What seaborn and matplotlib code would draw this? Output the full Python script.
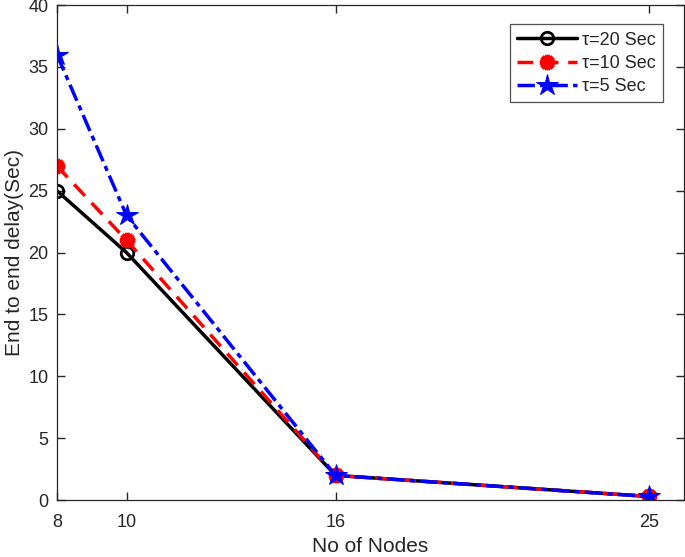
import numpy as np
import pandas as pd
import matplotlib
matplotlib.use("Agg")
import matplotlib.pyplot as plt
import seaborn as sns

# data
nodes = [8, 10, 16, 25]
delay_tau20 = [25, 20, 2, 0.3]
delay_tau10 = [27, 21, 2, 0.3]
delay_tau5 = [36, 23, 2, 0.3]
labels = ["τ=20 Sec", "τ=10 Sec", "τ=5 Sec"]

sns.set_style("ticks")
plt.rcParams['font.family'] = ['Liberation Sans', 'DejaVu Sans']

fig = plt.figure(figsize=(6.85, 5.57), dpi=100)
ax = fig.add_axes([0.083, 0.102, 0.9155, 0.889])

sns.lineplot(x=nodes, y=delay_tau20, ax=ax, color='black', linestyle='-', linewidth=2.5,
             marker='o', markersize=9, markerfacecolor='none', markeredgecolor='black',
             markeredgewidth=2, label=labels[0])
sns.lineplot(x=nodes, y=delay_tau10, ax=ax, color='red', linestyle=(0, (4.5, 2.8)), linewidth=2.5,
             marker=(8, 2, 0), markersize=11, markeredgecolor='red', markeredgewidth=3.5,
             label=labels[1])
sns.lineplot(x=nodes, y=delay_tau5, ax=ax, color='blue', linestyle=(0, (5, 1.5, 1.5, 1.5)), linewidth=2.5,
             marker='*', markersize=16, markerfacecolor='blue', markeredgecolor='blue',
             label=labels[2])

ax.set_xlim(8, 26)
ax.set_ylim(0, 40)
ax.set_xticks(nodes)
ax.set_yticks(np.arange(0, 41, 5))
ax.xaxis.set_ticks_position('both')
ax.yaxis.set_ticks_position('both')
ax.tick_params(which='major', direction='in', length=6, width=1.0, labelsize=13,
               color='#262626', labelcolor='#262626')
ax.tick_params(axis='x', pad=10)
ax.tick_params(axis='y', pad=6)
for s in ax.spines.values():
    s.set_visible(True)
    s.set_color('#262626')
    s.set_linewidth(0.9)
ax.set_xlabel("No of Nodes", fontsize=15, color='#262626', labelpad=4)
ax.set_ylabel("End to end delay(Sec)", fontsize=15, color='#262626', labelpad=3)

leg = ax.legend(loc='upper right', bbox_to_anchor=(0.9755, 0.972), fontsize=13,
                frameon=True, fancybox=False, edgecolor='#262626', handlelength=3.3,
                borderpad=0.4, labelspacing=0.35, handletextpad=0.3, borderaxespad=0.3)
leg.get_frame().set_linewidth(0.9)

fig.savefig("out.png", dpi=100)
